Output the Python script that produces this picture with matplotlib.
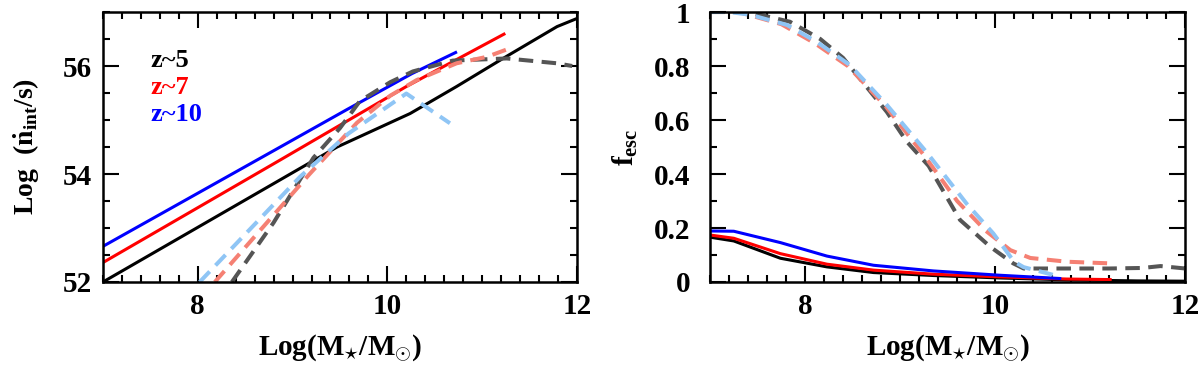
import numpy as np
import matplotlib
matplotlib.use("Agg")
import matplotlib.pyplot as plt
from matplotlib.ticker import MultipleLocator, FixedLocator, FuncFormatter

plt.rcParams['font.family'] = ['Liberation Serif', 'DejaVu Serif']
plt.rcParams['mathtext.fontset'] = 'custom'
plt.rcParams['mathtext.rm'] = 'Liberation Serif:bold'
plt.rcParams['mathtext.it'] = 'Liberation Serif:bold:italic'
plt.rcParams['mathtext.bf'] = 'Liberation Serif:bold'

# Panel trai: Log(ndot_int) theo Log(M*)
x5 = [7.0, 9.47, 10.24, 10.73, 11.22, 11.79, 12.0]
n5 = [52.0, 54.5, 55.12, 55.62, 56.14, 56.73, 56.88]
x7 = [7.0, 8.87, 10.2, 11.23]
n7 = [52.36, 54.26, 55.62, 56.59]
x10 = [7.0, 8.87, 9.57, 10.26, 10.72]
n10 = [52.66, 54.5, 55.19, 55.86, 56.25]

# duong net dut
xd5 = [8.36, 8.8, 9.22, 9.5, 9.71, 10.03, 10.27, 10.69, 11.26, 11.79, 11.95]
nd5 = [52.0, 53.1, 54.3, 54.85, 55.35, 55.7, 55.9, 56.1, 56.14, 56.05, 56.0]
xd7 = [8.18, 9.18, 9.68, 10.03, 10.31, 10.73, 11.05, 11.25]
nd7 = [52.0, 54.0, 54.95, 55.45, 55.74, 56.05, 56.17, 56.3]
xd10 = [8.02, 9.08, 9.59, 10.2, 10.66]
nd10 = [52.0, 53.95, 54.75, 55.49, 54.94]

# Panel phai: f_esc
fx5 = [7.0, 7.25, 7.74, 8.23, 8.72, 9.35, 10.05, 10.75, 11.5, 12.0]
f5 = [0.166, 0.152, 0.088, 0.056, 0.035, 0.024, 0.015, 0.008, 0.004, 0.003]
fx7 = [7.0, 7.25, 7.74, 8.23, 8.72, 9.35, 10.05, 10.75, 11.21]
f7 = [0.174, 0.162, 0.105, 0.066, 0.044, 0.029, 0.019, 0.011, 0.009]
fx10 = [7.0, 7.25, 7.74, 8.23, 8.72, 9.35, 10.05, 10.68]
f10 = [0.189, 0.188, 0.146, 0.096, 0.062, 0.041, 0.025, 0.013]

fxd5 = [7.0, 7.4, 7.84, 8.16, 8.4, 8.86, 9.07, 9.3, 9.63, 9.95, 10.19, 10.3, 11.2, 11.55, 11.74, 12.0]
fd5 = [1.0, 1.0, 0.964, 0.90, 0.83, 0.63, 0.52, 0.43, 0.23, 0.13, 0.069, 0.05, 0.05, 0.052, 0.059, 0.05]
fxd7 = [7.0, 7.3, 7.75, 8.1, 8.45, 8.85, 9.25, 9.6, 9.9, 10.16, 10.37, 10.76, 11.21]
fd7 = [1.0, 1.0, 0.955, 0.885, 0.80, 0.65, 0.47, 0.30, 0.19, 0.118, 0.089, 0.075, 0.069]
fxd10 = [7.0, 7.2, 7.42, 7.81, 8.12, 8.47, 8.86, 9.28, 9.7, 9.98, 10.2, 10.3, 10.68]
fd10 = [1.0, 1.0, 0.99, 0.952, 0.89, 0.804, 0.656, 0.48, 0.29, 0.18, 0.075, 0.055, 0.02]

labels = ['z~5', 'z~7', 'z~10']
solid_colors = ['black', '#ff0000', '#0000ff']
dash_colors = ['#555555', '#f58073', '#8fc5f5']

fig = plt.figure(figsize=(12, 3.65), dpi=100)
ax1 = fig.add_axes([0.0858, 0.2274, 0.395, 0.7397])
ax2 = fig.add_axes([0.5917, 0.2274, 0.396, 0.7397])

lw_s = 2.2
lw_d = 2.9
dash = (3.6, 2.1)

for x, y, c in zip([x5, x7, x10], [n5, n7, n10], solid_colors):
    ax1.plot(x, y, color=c, lw=lw_s)
for x, y, c in zip([xd5, xd7, xd10], [nd5, nd7, nd10], dash_colors):
    ax1.plot(x, y, color=c, lw=lw_d, dashes=dash)

for x, y, c in zip([fx5, fx7, fx10], [f5, f7, f10], solid_colors):
    ax2.plot(x, y, color=c, lw=lw_s)
for x, y, c in zip([fxd5, fxd7, fxd10], [fd5, fd7, fd10], dash_colors):
    ax2.plot(x, y, color=c, lw=lw_d, dashes=dash)

# chu thich
for i, (t, c) in enumerate(zip(labels, solid_colors)):
    ax1.text(7.5, 56.1 - 0.5 * i, t, color=c, fontsize=19, fontweight='bold',
             va='center', ha='left')

ax1.set_xlim(7, 12)
ax1.set_ylim(52, 57)
ax1.xaxis.set_major_locator(FixedLocator([8, 10, 12]))
ax1.xaxis.set_minor_locator(MultipleLocator(0.2))
ax1.yaxis.set_major_locator(FixedLocator([52, 54, 56]))
ax1.yaxis.set_minor_locator(MultipleLocator(0.5))

ax2.set_xlim(7, 12)
ax2.set_ylim(0, 1)
ax2.xaxis.set_major_locator(FixedLocator([8, 10, 12]))
ax2.xaxis.set_minor_locator(MultipleLocator(0.2))
ax2.yaxis.set_major_locator(MultipleLocator(0.2))
ax2.yaxis.set_minor_locator(MultipleLocator(0.1))
ax2.yaxis.set_major_formatter(FuncFormatter(lambda v, p: f'{v:g}'))

for ax in [ax1, ax2]:
    for s in ax.spines.values():
        s.set_linewidth(1.8)
    ax.tick_params(which='both', direction='in', top=True, right=True, width=1.5)
    ax.tick_params(which='major', length=11.5, labelsize=21)
    ax.tick_params(which='minor', length=5)
    ax.tick_params(axis='x', pad=8)
    for lab in ax.get_xticklabels() + ax.get_yticklabels():
        lab.set_fontweight('bold')
    ax.set_xlabel(r'Log(M$_{\star}$/M$_{\odot}$)', fontsize=21, fontweight='bold', labelpad=9)

ax1.tick_params(axis='y', pad=8)
ax2.tick_params(axis='y', pad=14)
ax1.set_ylabel(r'Log  ($\dot{\rm n}_{\rm int}$/s)', fontsize=20, fontweight='bold', labelpad=15)
ax2.set_ylabel(r'f$_{\rm esc}$', fontsize=21, fontweight='bold', labelpad=10)

fig.savefig('out.png', dpi=100)
